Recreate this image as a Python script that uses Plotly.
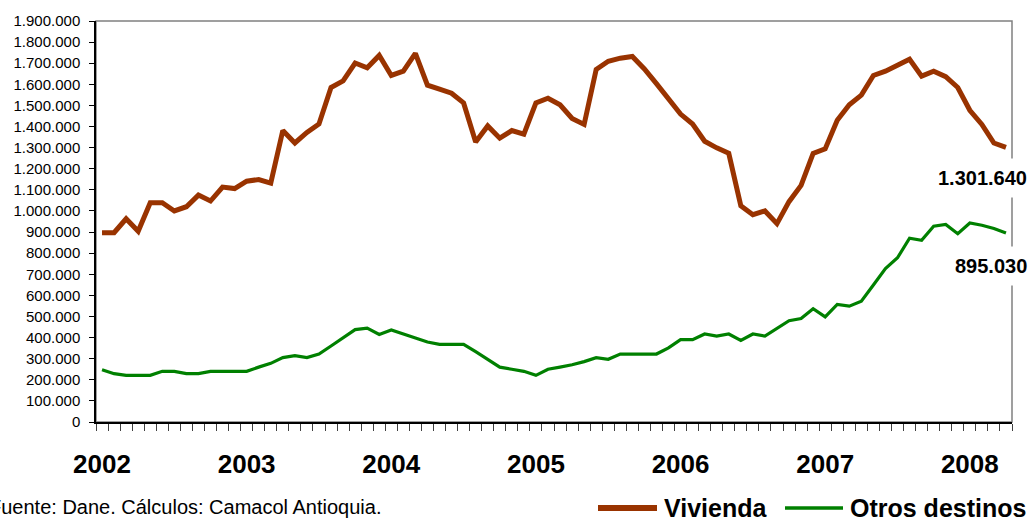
import plotly.graph_objects as go

# Monthly series, January 2002 to April 2008 (76 months)
years = ["2002", "2003", "2004", "2005", "2006", "2007", "2008"]
months_per_year = 12

vivienda = [
    897000, 897000, 963000, 904000, 1039000, 1039000, 1000000, 1020000,
    1075000, 1047000, 1113000, 1106000,
    1141000, 1149000, 1132000, 1381000, 1322000, 1372000, 1412000, 1585000,
    1616000, 1701000, 1678000, 1737000,
    1642000, 1662000, 1747000, 1596000, 1577000, 1558000, 1512000, 1327000,
    1403000, 1345000, 1381000, 1364000,
    1512000, 1534000, 1503000, 1438000, 1410000, 1670000, 1709000, 1724000,
    1732000, 1673000, 1603000, 1534000,
    1459000, 1412000, 1330000, 1299000, 1273000, 1024000, 982000, 1000000,
    940000, 1044000, 1121000, 1273000,
    1294000, 1430000, 1503000, 1549000, 1642000, 1662000, 1693000, 1719000,
    1639000, 1662000, 1636000, 1585000,
    1477000, 1410000, 1322000, 1301640,
]

otros_destinos = [
    248000, 229000, 221000, 221000, 221000, 240000, 240000, 229000,
    229000, 240000, 240000, 240000,
    240000, 260000, 278000, 305000, 314000, 305000, 322000, 360000,
    398000, 438000, 445000, 415000,
    436000, 417000, 399000, 379000, 368000, 368000, 368000, 333000,
    297000, 260000, 250000, 240000,
    221000, 250000, 260000, 271000, 286000, 305000, 297000, 322000,
    322000, 322000, 322000, 351000,
    390000, 390000, 417000, 407000, 417000, 387000, 417000, 407000,
    445000, 480000, 490000, 537000,
    498000, 557000, 549000, 572000, 649000, 727000, 778000, 871000,
    861000, 928000, 936000, 892000,
    943000, 932000, 917000, 895030,
]

series_names = ["Vivienda", "Otros destinos"]
source_note = "Fuente: Dane. Cálculos: Camacol Antioquia."

RED = "#993300"
GREEN = "#008000"
FONT = "Liberation Sans, Arial, sans-serif"

W, H = 1036, 524
ML, MR, MT, MB = 96, 24, 12, 102
PW, PH = W - ML - MR, H - MT - MB

n = len(vivienda)
months = list(range(n))


def px_x(px):
    return (px - ML) / PW


def px_y(py):
    return (H - MB - py) / PH


def fmt(v):
    return f"{v:,}".replace(",", ".")


fig = go.Figure()
fig.add_trace(go.Scatter(x=months, y=vivienda, mode="lines", name=series_names[0],
                         line=dict(color=RED, width=5)))
fig.add_trace(go.Scatter(x=months, y=otros_destinos, mode="lines", name=series_names[1],
                         line=dict(color=GREEN, width=3.2)))

# plot-area frame (grey top/right), axes drawn in black over it
fig.add_shape(type="rect", xref="paper", yref="paper", x0=0, x1=1, y0=0, y1=1,
              line=dict(color="#808080", width=1.5), layer="below")

# end-of-series value labels
for vals, dy in ((vivienda, -31), (otros_destinos, -33)):
    fig.add_annotation(x=months[-1], y=vals[-1], xref="x", yref="y",
                       text=f"<b>{fmt(vals[-1])}</b>", showarrow=False,
                       xanchor="right", yanchor="middle", xshift=30, yshift=dy,
                       bgcolor="white", borderpad=8,
                       font=dict(family=FONT, size=20, color="black"))

# legend drawn below the axis
leg_y = px_y(510)
for (x0, x1, tx), name, color, w in (
    ((598, 657, 662), series_names[0], RED, 6),
    ((785, 843, 848), series_names[1], GREEN, 3.5),
):
    fig.add_shape(type="line", xref="paper", yref="paper",
                  x0=px_x(x0), x1=px_x(x1), y0=leg_y, y1=leg_y,
                  line=dict(color=color, width=w))
    fig.add_annotation(x=px_x(tx), y=leg_y, xref="paper", yref="paper",
                       text=f"<b>{name}</b>", showarrow=False,
                       xanchor="left", yanchor="middle",
                       font=dict(family=FONT, size=25, color="black"))

# source note, running off the left edge of the page
fig.add_annotation(x=px_x(-13), y=px_y(509), xref="paper", yref="paper",
                   text=source_note, showarrow=False, xanchor="left", yanchor="middle",
                   font=dict(family=FONT, size=20, color="black"))

fig.update_layout(
    width=W, height=H,
    margin=dict(l=ML, r=MR, t=MT, b=MB),
    paper_bgcolor="white", plot_bgcolor="white",
    separators=",.",
    showlegend=False,
    font=dict(family=FONT, color="black"),
)

fig.update_xaxes(
    range=[-0.5, n - 0.5],
    tickmode="array",
    tickvals=[i * months_per_year for i in range(len(years))],
    ticktext=years,
    ticks="",
    ticklabelstandoff=18,
    tickfont=dict(family=FONT, size=26, color="black", weight="bold"),
    showgrid=False, zeroline=False,
    showline=True, linecolor="black", linewidth=1.5,
    minor=dict(tickmode="linear", tick0=-0.5, dtick=1, ticks="outside",
               ticklen=7, tickcolor="#404040", tickwidth=1, showgrid=False),
)

fig.update_yaxes(
    range=[0, 1900000],
    tickmode="linear", tick0=0, dtick=100000,
    tickformat=",.0f",
    ticks="outside", ticklen=5, tickcolor="black", tickwidth=1,
    ticklabelstandoff=6,
    tickfont=dict(family=FONT, size=15, color="black"),
    showgrid=False, zeroline=False,
    showline=True, linecolor="black", linewidth=1.5,
)

fig.write_html("out.html")
